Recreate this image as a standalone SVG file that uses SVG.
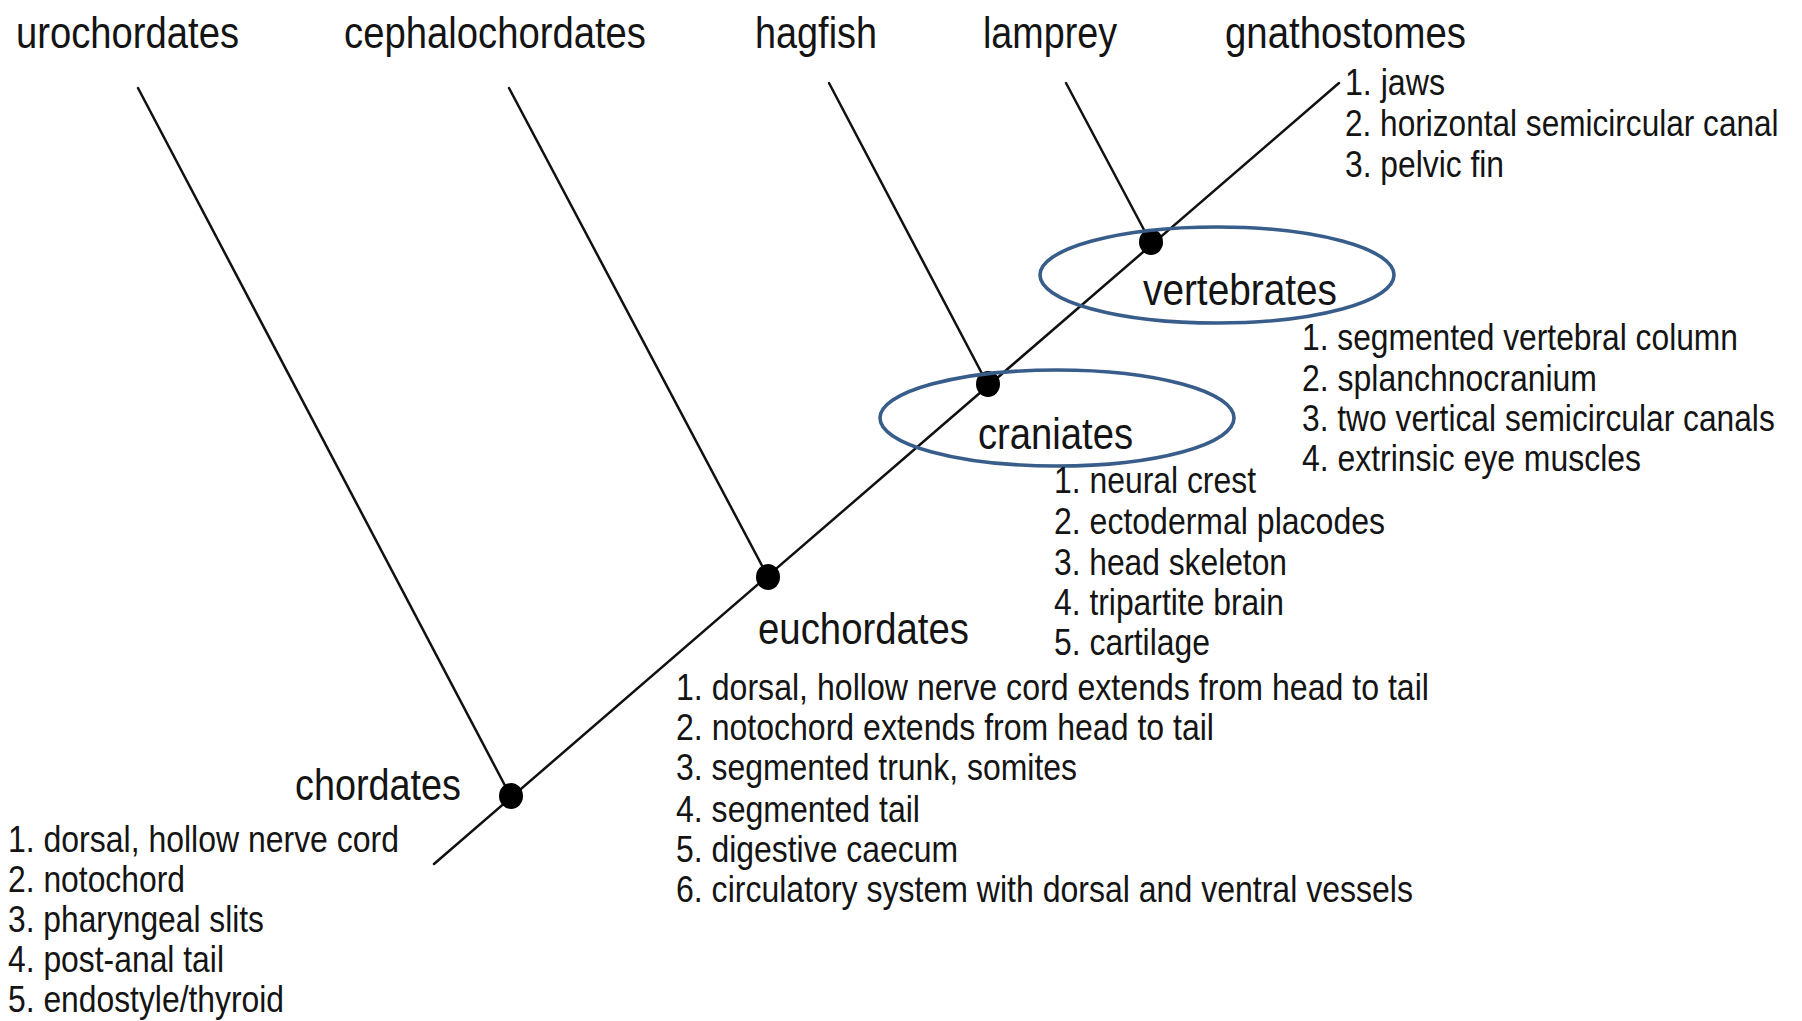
<svg xmlns="http://www.w3.org/2000/svg" width="1802" height="1021" viewBox="0 0 1802 1021">
<style>
text{font-family:"Liberation Sans Narrow","Liberation Sans",Arial,sans-serif;fill:#141414}
.taxon{font-size:44px}
.clade{font-size:44px}
.list{font-size:37px}
.branch{stroke:#111;stroke-width:2.5;fill:none;stroke-linecap:round}
.dot{fill:#000}
.ring{fill:none;stroke:#385d8a;stroke-width:3.6}
</style>
<rect width="1802" height="1021" fill="#fff"/>
<g id="connectors">
<line class="branch" x1="434" y1="864" x2="1339" y2="83"/>
<line class="branch" x1="138" y1="88" x2="511" y2="797"/>
<line class="branch" x1="509" y1="88" x2="768" y2="577"/>
<line class="branch" x1="829" y1="83" x2="988" y2="385"/>
<line class="branch" x1="1066" y1="83" x2="1151" y2="243"/>
</g>
<g id="urochordates"><text class="taxon" x="16" y="48" textLength="223" lengthAdjust="spacingAndGlyphs">urochordates</text></g>
<g id="cephalochordates"><text class="taxon" x="344" y="48" textLength="302" lengthAdjust="spacingAndGlyphs">cephalochordates</text></g>
<g id="hagfish"><text class="taxon" x="755" y="48" textLength="122" lengthAdjust="spacingAndGlyphs">hagfish</text></g>
<g id="lamprey"><text class="taxon" x="983" y="48" textLength="134" lengthAdjust="spacingAndGlyphs">lamprey</text></g>
<g id="gnathostomes"><text class="taxon" x="1225" y="48" textLength="241" lengthAdjust="spacingAndGlyphs">gnathostomes</text>
<text class="list" x="1345" y="95" textLength="100" lengthAdjust="spacingAndGlyphs">1. jaws</text>
<g transform="translate(1345,136) scale(0.8,1)"><text class="list" x="0" y="0" textLength="542" lengthAdjust="spacingAndGlyphs">2. horizontal semicircular canal</text></g>
<text class="list" x="1345" y="177" textLength="159" lengthAdjust="spacingAndGlyphs">3. pelvic fin</text>
</g>
<g id="chordates">
<ellipse class="dot" cx="511" cy="796" rx="12" ry="13"/>
<text class="clade" x="295" y="800" textLength="166" lengthAdjust="spacingAndGlyphs">chordates</text>
<text class="list" x="8" y="852" textLength="391" lengthAdjust="spacingAndGlyphs">1. dorsal, hollow nerve cord</text>
<text class="list" x="8" y="892" textLength="177" lengthAdjust="spacingAndGlyphs">2. notochord</text>
<text class="list" x="8" y="932" textLength="256" lengthAdjust="spacingAndGlyphs">3. pharyngeal slits</text>
<text class="list" x="8" y="972" textLength="216" lengthAdjust="spacingAndGlyphs">4. post-anal tail</text>
<text class="list" x="8" y="1012" textLength="276" lengthAdjust="spacingAndGlyphs">5. endostyle/thyroid</text>
</g>
<g id="euchordates">
<ellipse class="dot" cx="768" cy="577" rx="12" ry="13"/>
<text class="clade" x="758" y="644" textLength="211" lengthAdjust="spacingAndGlyphs">euchordates</text>
<text class="list" x="676" y="700" textLength="753" lengthAdjust="spacingAndGlyphs">1. dorsal, hollow nerve cord extends from head to tail</text>
<text class="list" x="676" y="740" textLength="538" lengthAdjust="spacingAndGlyphs">2. notochord extends from head to tail</text>
<text class="list" x="676" y="780" textLength="401" lengthAdjust="spacingAndGlyphs">3. segmented trunk, somites</text>
<text class="list" x="676" y="822" textLength="244" lengthAdjust="spacingAndGlyphs">4. segmented tail</text>
<text class="list" x="676" y="862" textLength="282" lengthAdjust="spacingAndGlyphs">5. digestive caecum</text>
<text class="list" x="676" y="902" textLength="737" lengthAdjust="spacingAndGlyphs">6. circulatory system with dorsal and ventral vessels</text>
</g>
<g id="craniates">
<ellipse class="dot" cx="988" cy="384" rx="12" ry="13"/>
<ellipse class="ring" cx="1057" cy="418" rx="177" ry="48"/>
<text class="clade" x="978" y="449" textLength="155" lengthAdjust="spacingAndGlyphs">craniates</text>
<text class="list" x="1054" y="493" textLength="202" lengthAdjust="spacingAndGlyphs">1. neural crest</text>
<text class="list" x="1054" y="534" textLength="331" lengthAdjust="spacingAndGlyphs">2. ectodermal placodes</text>
<text class="list" x="1054" y="575" textLength="233" lengthAdjust="spacingAndGlyphs">3. head skeleton</text>
<text class="list" x="1054" y="615" textLength="230" lengthAdjust="spacingAndGlyphs">4. tripartite brain</text>
<text class="list" x="1054" y="655" textLength="156" lengthAdjust="spacingAndGlyphs">5. cartilage</text>
</g>
<g id="vertebrates">
<ellipse class="dot" cx="1151" cy="242" rx="12" ry="13"/>
<ellipse class="ring" cx="1217" cy="275" rx="177" ry="48"/>
<text class="clade" x="1143" y="305" textLength="194" lengthAdjust="spacingAndGlyphs">vertebrates</text>
<g transform="translate(1302,350) scale(0.8,1)"><text class="list" x="0" y="0" textLength="545" lengthAdjust="spacingAndGlyphs">1. segmented vertebral column</text></g>
<text class="list" x="1302" y="391" textLength="295" lengthAdjust="spacingAndGlyphs">2. splanchnocranium</text>
<g transform="translate(1302,431) scale(0.8,1)"><text class="list" x="0" y="0" textLength="591" lengthAdjust="spacingAndGlyphs">3. two vertical semicircular canals</text></g>
<text class="list" x="1302" y="471" textLength="339" lengthAdjust="spacingAndGlyphs">4. extrinsic eye muscles</text>
</g>
</svg>
